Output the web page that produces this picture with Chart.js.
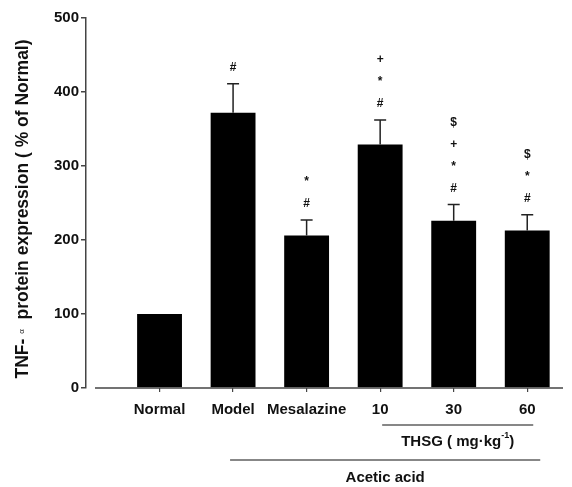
<!DOCTYPE html>
<html><head><meta charset="utf-8">
<script src="https://cdn.jsdelivr.net/npm/chart.js@4"></script>
<style>html,body{margin:0;padding:0;background:#fff}</style>
</head><body>
<canvas id="c" width="572" height="487"></canvas>
<script>
// data
const groups = ["Normal", "Model", "Mesalazine", "10", "30", "60"];
const means = [100, 372, 206, 329, 226, 213];
const sems = [0, 39, 21, 33, 22, 21];
const marks = [[], ["#"], ["#", "*"], ["#", "*", "+"], ["#", "*", "+", "$"], ["#", "*", "$"]];
const yTicks = [0, 100, 200, 300, 400, 500];
const thsgLabel = ["THSG ( mg\u00b7kg", "-1", ")"];
const acidLabel = "Acetic acid";
const yTitle = ["TNF- ", "\u03b1", "  protein expression ( % of Normal)"];

const ink = "#111";
const axisCol = "#444";

const extras = {
  id: "extras",
  afterDatasetsDraw(chart){
    const ctx = chart.ctx, xs = chart.scales.x, ys = chart.scales.y;
    const bars = chart.getDatasetMeta(0).data;
    const ca = chart.chartArea;
    ctx.save();
    // x axis line (offset from the y axis)
    ctx.strokeStyle = axisCol; ctx.lineWidth = 1.5;
    ctx.beginPath(); ctx.moveTo(ca.left + 9, ca.bottom); ctx.lineTo(ca.right - 1, ca.bottom); ctx.stroke();
    // error bars
    ctx.strokeStyle = "#222"; ctx.lineWidth = 1.5;
    bars.forEach((b, i) => {
      if(!sems[i]) return;
      const yb = ys.getPixelForValue(means[i]);
      const yt = ys.getPixelForValue(means[i] + sems[i]);
      ctx.beginPath();
      ctx.moveTo(b.x, yb); ctx.lineTo(b.x, yt);
      ctx.moveTo(b.x - 6, yt); ctx.lineTo(b.x + 6, yt);
      ctx.stroke();
    });
    // significance marks
    ctx.fillStyle = ink; ctx.textAlign = "center"; ctx.textBaseline = "middle";
    ctx.font = "bold 12px 'Liberation Sans', Arial, sans-serif";
    bars.forEach((b, i) => {
      const yt = ys.getPixelForValue(means[i] + sems[i]);
      marks[i].forEach((m, k) => {
        ctx.fillText(m, b.x, yt - 16 - k * 22);
      });
    });
    // THSG bracket
    ctx.strokeStyle = ink; ctx.lineWidth = 1.2;
    const t0 = xs.getPixelForValue(3) + 2, t1 = xs.getPixelForValue(5) + 6;
    const ty = ca.bottom + 37;
    ctx.beginPath(); ctx.moveTo(t0, ty); ctx.lineTo(t1, ty); ctx.stroke();
    ctx.font = "bold 15px 'Liberation Sans', Arial, sans-serif";
    const f2 = "bold 9px 'Liberation Sans', Arial, sans-serif";
    const w0 = ctx.measureText(thsgLabel[0]).width, w2 = ctx.measureText(thsgLabel[2]).width;
    ctx.font = f2; const w1 = ctx.measureText(thsgLabel[1]).width;
    let tx = (t0 + t1) / 2 - (w0 + w1 + w2) / 2;
    const tly = ty + 17;
    ctx.textAlign = "left";
    ctx.font = "bold 15px 'Liberation Sans', Arial, sans-serif";
    ctx.fillText(thsgLabel[0], tx, tly); tx += w0;
    ctx.font = f2; ctx.fillText(thsgLabel[1], tx, tly - 6); tx += w1;
    ctx.font = "bold 15px 'Liberation Sans', Arial, sans-serif";
    ctx.fillText(thsgLabel[2], tx, tly);
    // acetic acid bracket
    const a0 = xs.getPixelForValue(1) - 3, a1 = xs.getPixelForValue(5) + 13;
    const ay = ca.bottom + 72;
    ctx.beginPath(); ctx.moveTo(a0, ay); ctx.lineTo(a1, ay); ctx.stroke();
    ctx.textAlign = "center";
    ctx.fillText(acidLabel, (a0 + a1) / 2, ay + 18);
    // y title with small alpha
    ctx.translate(23, (ca.top + ca.bottom) / 2 + 6);
    ctx.rotate(-Math.PI / 2);
    const big = "bold 17.5px 'Liberation Sans', Arial, sans-serif";
    const small = "8px 'Liberation Sans', Arial, sans-serif";
    ctx.font = big; const b0 = ctx.measureText(yTitle[0]).width, b2 = ctx.measureText(yTitle[2]).width;
    ctx.font = small; const b1 = ctx.measureText(yTitle[1]).width;
    let px = -(b0 + b1 + b2) / 2;
    ctx.textAlign = "left";
    ctx.font = big; ctx.fillText(yTitle[0], px, 0); px += b0;
    ctx.font = small; ctx.fillText(yTitle[1], px, -1); px += b1;
    ctx.font = big; ctx.fillText(yTitle[2], px, 0);
    ctx.restore();
  }
};

new Chart(document.getElementById("c"), {
  type: "bar",
  data: {
    datasets: [{
      data: means.map((v, i) => ({x: i, y: v})),
      backgroundColor: "#000",
      borderWidth: 0,
      barPercentage: 0.61,
      categoryPercentage: 1
    }]
  },
  options: {
    responsive: false,
    animation: false,
    layout: {padding: {top: 18, right: 8, left: 0, bottom: 0}},
    plugins: {legend: {display: false}, tooltip: {enabled: false}},
    scales: {
      x: {
        type: "linear",
        offset: false,
        min: -1, max: 5.5,
        afterBuildTicks: s => { s.ticks = groups.map((g, i) => ({value: i})); },
        afterFit: s => { s.height = 99; },
        border: {display: false},
        grid: {offset: false, drawOnChartArea: false, drawTicks: true, tickLength: 4, color: axisCol, lineWidth: 1.2},
        ticks: {
          autoSkip: false, maxRotation: 0, padding: 9, color: ink,
          font: {family: "'Liberation Sans', Arial, sans-serif", size: 15, weight: "bold"},
          callback: v => groups[v]
        }
      },
      y: {
        min: 0, max: 500,
        afterBuildTicks: s => { s.ticks = yTicks.map(v => ({value: v})); },
        afterFit: s => { s.width = 86; },
        border: {display: true, color: axisCol, width: 1.5},
        grid: {drawOnChartArea: false, drawTicks: true, tickLength: 5, color: axisCol, lineWidth: 1.5},
        ticks: {
          padding: 2, color: ink,
          font: {family: "'Liberation Sans', Arial, sans-serif", size: 15, weight: "bold"}
        }
      }
    }
  },
  plugins: [extras]
});
</script>
</body></html>
